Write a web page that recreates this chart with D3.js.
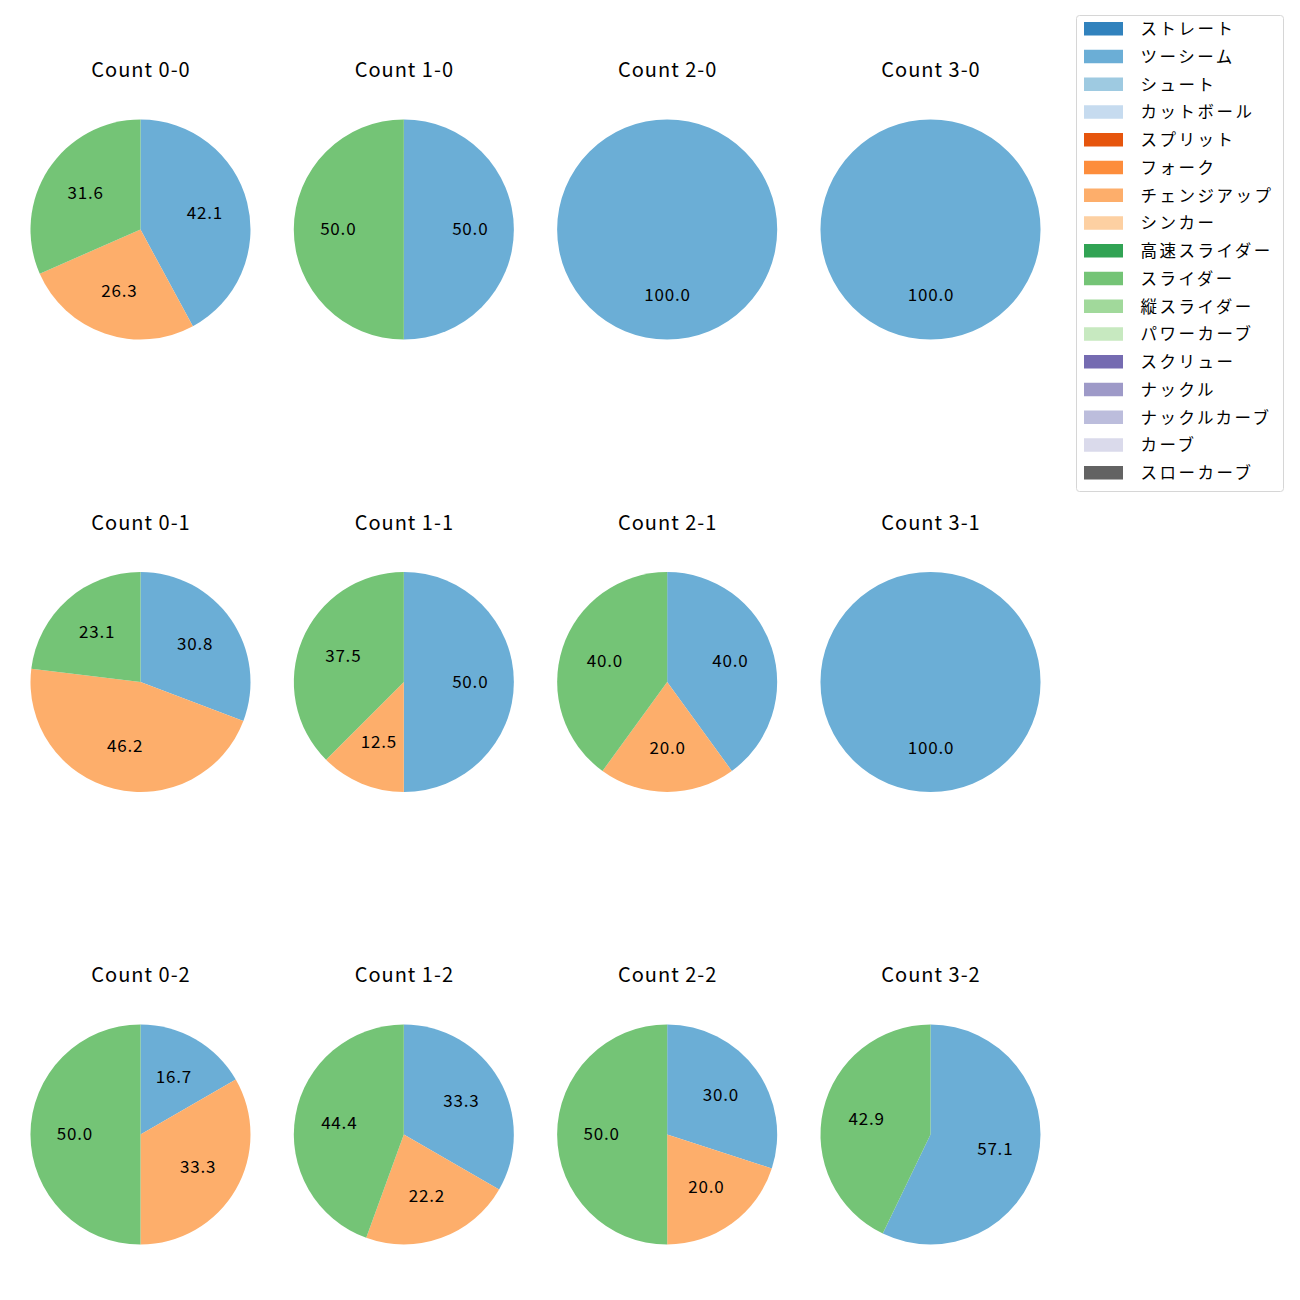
<!DOCTYPE html>
<html>
<head>
<meta charset="utf-8">
<script src="https://cdn.jsdelivr.net/npm/d3@7"></script>
<style>
body { margin: 0; background: #fff; }
svg { display: block; }
text { font-family: "Noto Sans CJK JP", "Noto Sans", sans-serif; fill: #000; }
</style>
</head>
<body>
<svg id="chart" width="1300" height="1300"></svg>
<script>
// Legend categories (pitch types) and colours
const pitchTypes = ["ストレート","ツーシーム","シュート","カットボール","スプリット","フォーク","チェンジアップ","シンカー","高速スライダー","スライダー","縦スライダー","パワーカーブ","スクリュー","ナックル","ナックルカーブ","カーブ","スローカーブ"];
const pitchColors = ["#3182bd","#6baed6","#9ecae1","#c6dbef","#e6550d","#fd8d3c","#fdae6b","#fdd0a2","#31a354","#74c476","#a1d99b","#c7e9c0","#756bb1","#9e9ac8","#bcbddc","#dadaeb","#636363"];

// Ball-strike counts (panels)
const counts = ["0-0","1-0","2-0","3-0","0-1","1-1","2-1","3-1","0-2","1-2","2-2","3-2"];
// Series: pitch counts per panel (ツーシーム, チェンジアップ, スライダー)
const twoSeam   = [8, 1, 1, 1, 4, 4, 2, 1, 1, 3, 3, 4];
const changeUp  = [5, 0, 0, 0, 6, 1, 1, 0, 2, 2, 2, 0];
const slider    = [6, 1, 0, 0, 3, 3, 2, 0, 3, 4, 5, 3];

const seriesNames = ["ツーシーム","チェンジアップ","スライダー"];
const seriesValues = [twoSeam, changeUp, slider];

const color = d3.scaleOrdinal().domain(pitchTypes).range(pitchColors);

const svg = d3.select("#chart");

const colX = d3.scalePoint().domain([0,1,2,3]).range([140.5, 930.5]);
const rowY = d3.scalePoint().domain([0,1,2]).range([229.5, 1134.5]);
const R = 110;
const titleOffset = 161;

const pie = d3.pie().sort(null).value(d => d.value).startAngle(0).endAngle(2 * Math.PI);
const arc = d3.arc().innerRadius(0).outerRadius(R);
const labelArc = d3.arc().innerRadius(R * 0.6).outerRadius(R * 0.6);

const lblLS = 0.8, titleLS = 1;

counts.forEach((c, i) => {
  const col = i % 4, row = Math.floor(i / 4);
  const cx = colX(col), cy = rowY(row);
  const data = seriesNames.map((n, k) => ({ name: n, value: seriesValues[k][i] })).filter(d => d.value > 0);
  const total = d3.sum(data, d => d.value);
  const g = svg.append("g").attr("transform", `translate(${cx},${cy})`);
  const arcs = pie(data);
  g.selectAll("path").data(arcs).join("path")
    .attr("d", arc)
    .attr("fill", d => color(d.data.name));
  g.selectAll("text.lbl").data(arcs).join("text")
    .attr("class", "lbl")
    .attr("transform", d => {
      const [x, y] = labelArc.centroid(d);
      return `translate(${x},${y})`;
    })
    .attr("text-anchor", "middle")
    .attr("dominant-baseline", "central")
    .attr("dx", lblLS / 2)
    .attr("dy", -2)
    .style("font-size", "17px")
    .style("letter-spacing", lblLS + "px")
    .text(d => (d.data.value / total * 100).toFixed(1));
  svg.append("text")
    .attr("x", cx + titleLS / 2)
    .attr("y", cy - titleOffset)
    .attr("text-anchor", "middle")
    .attr("dominant-baseline", "central")
    .style("font-size", "20px")
    .style("letter-spacing", titleLS + "px")
    .text("Count " + c);
});

// Legend
const lg = svg.append("g").attr("transform", "translate(1076,15)");
lg.append("rect").attr("x", 0.5).attr("y", 0.5).attr("width", 207).attr("height", 476)
  .attr("rx", 3).attr("fill", "#fff").attr("stroke", "#d6d6d6");
const ly = d3.scalePoint().domain(pitchTypes).range([14, 458]);
const items = lg.selectAll("g.item").data(pitchTypes).join("g")
  .attr("class", "item")
  .attr("transform", d => `translate(0,${ly(d)})`);
items.append("rect").attr("x", 8).attr("y", -7).attr("width", 39).attr("height", 13.5)
  .attr("fill", d => color(d));
items.append("text").attr("x", 64.5).attr("y", 0).attr("dy", -1)
  .attr("dominant-baseline", "central")
  .style("font-size", "16.5px")
  .style("letter-spacing", "2.5px")
  .text(d => d);
</script>
</body>
</html>
